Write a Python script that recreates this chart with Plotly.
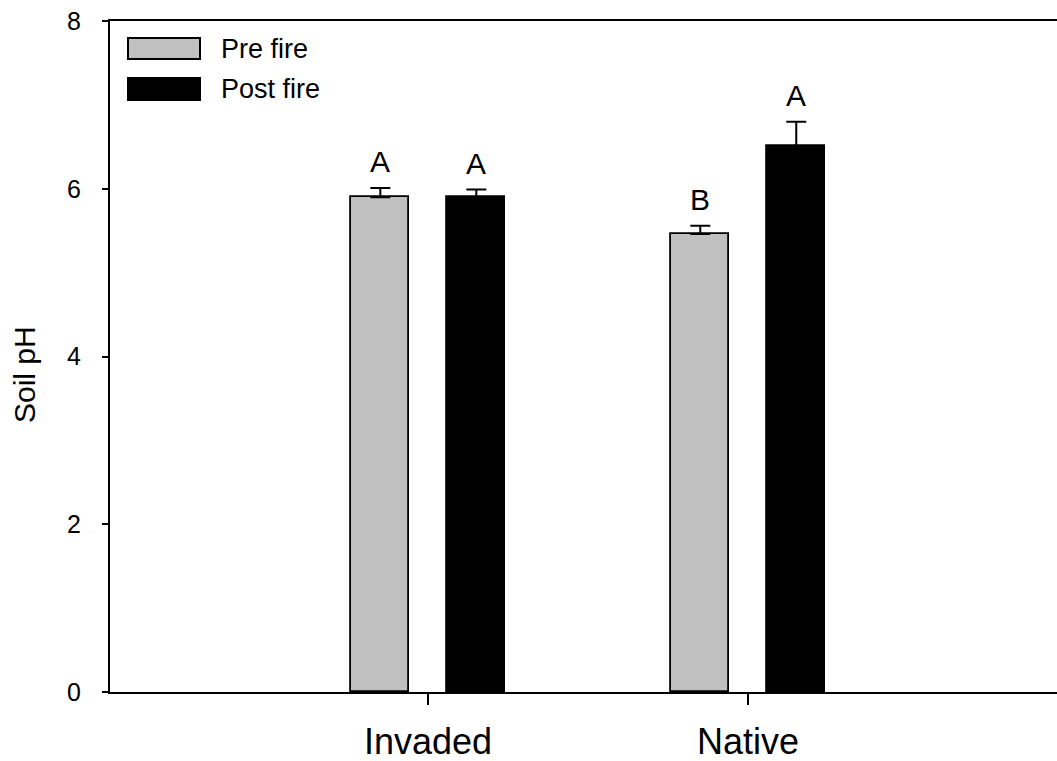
import plotly.graph_objects as go

# Soil pH before and after fire, by site type
sites = ["Invaded", "Native"]
series_names = ["Pre fire", "Post fire"]
pre_fire = [5.90, 5.46]
post_fire = [5.90, 6.51]
pre_fire_se = [0.11, 0.10]
post_fire_se = [0.09, 0.29]
pre_fire_letters = ["A", "B"]
post_fire_letters = ["A", "A"]
y_ticks = [0, 2, 4, 6, 8]

FONT = "Liberation Sans, Arial, sans-serif"
colors = ["#c0c0c0", "#000000"]
shifts = [-0.149, 0.151]
bar_w = 0.182

fig = go.Figure()
series = [
    (series_names[0], pre_fire, pre_fire_se, pre_fire_letters),
    (series_names[1], post_fire, post_fire_se, post_fire_letters),
]
for (name, vals, se, letters), col, sh in zip(series, colors, shifts):
    xs = [i + sh for i in range(len(sites))]
    fig.add_trace(go.Bar(
        x=xs, y=vals, width=bar_w, name=name,
        marker=dict(color=col, line=dict(color="black", width=1.8)),
        error_y=dict(type="data", array=se, arrayminus=[0] * len(se),
                     symmetric=False, color="black", thickness=2, width=10),
        showlegend=False,
    ))
    for x, v, e, t in zip(xs, vals, se, letters):
        fig.add_annotation(x=x, y=v + e, text=t, showarrow=False,
                           yanchor="bottom", yshift=8,
                           font=dict(family=FONT, size=30, color="black"))

# legend drawn as swatches with labels
legend_rows = [(38, 59), (78, 100)]
for (name, col), (y0, y1) in zip(zip(series_names, colors), legend_rows):
    fig.add_shape(type="rect", xref="paper", yref="paper",
                  x0=(128 - 110) / 947, x1=(200 - 110) / 947,
                  y0=(692 - y1) / 671, y1=(692 - y0) / 671,
                  fillcolor=col, line=dict(color="black", width=2))
    fig.add_annotation(xref="paper", yref="paper",
                       x=(219 - 110) / 947, y=(692 - (y0 + y1) / 2) / 671,
                       text=name, showarrow=False, xanchor="left", yanchor="middle",
                       font=dict(family=FONT, size=27, color="black"))

fig.add_annotation(xref="paper", yref="paper", x=(24 - 110) / 947,
                   y=(692 - 375) / 671, text="Soil pH", textangle=-90,
                   showarrow=False, xanchor="center", yanchor="middle",
                   font=dict(family=FONT, size=30, color="black"))

fig.update_layout(
    width=1057, height=761,
    margin=dict(l=110, r=0, t=21, b=69, autoexpand=False),
    paper_bgcolor="white", plot_bgcolor="white",
    font=dict(family=FONT, color="black"),
    bargap=0,
)
fig.update_xaxes(
    range=[-0.994, 1.966], tickmode="array",
    tickvals=list(range(len(sites))), ticktext=sites,
    showline=True, linecolor="black", linewidth=2, mirror=True,
    ticks="outside", ticklen=11, tickwidth=2, tickcolor="black",
    showgrid=False, zeroline=False, automargin=False,
    tickfont=dict(family=FONT, size=36, color="black"),
    ticklabelstandoff=6,
)
fig.update_yaxes(
    range=[0, 8], tickmode="array", tickvals=y_ticks,
    showline=True, linecolor="black", linewidth=2,
    ticks="outside", ticklen=6, tickwidth=2, tickcolor="black",
    showgrid=False, zeroline=False, automargin=False,
    tickfont=dict(family=FONT, size=25, color="black"),
    ticklabelstandoff=16,
)

fig.write_html("out.html")
